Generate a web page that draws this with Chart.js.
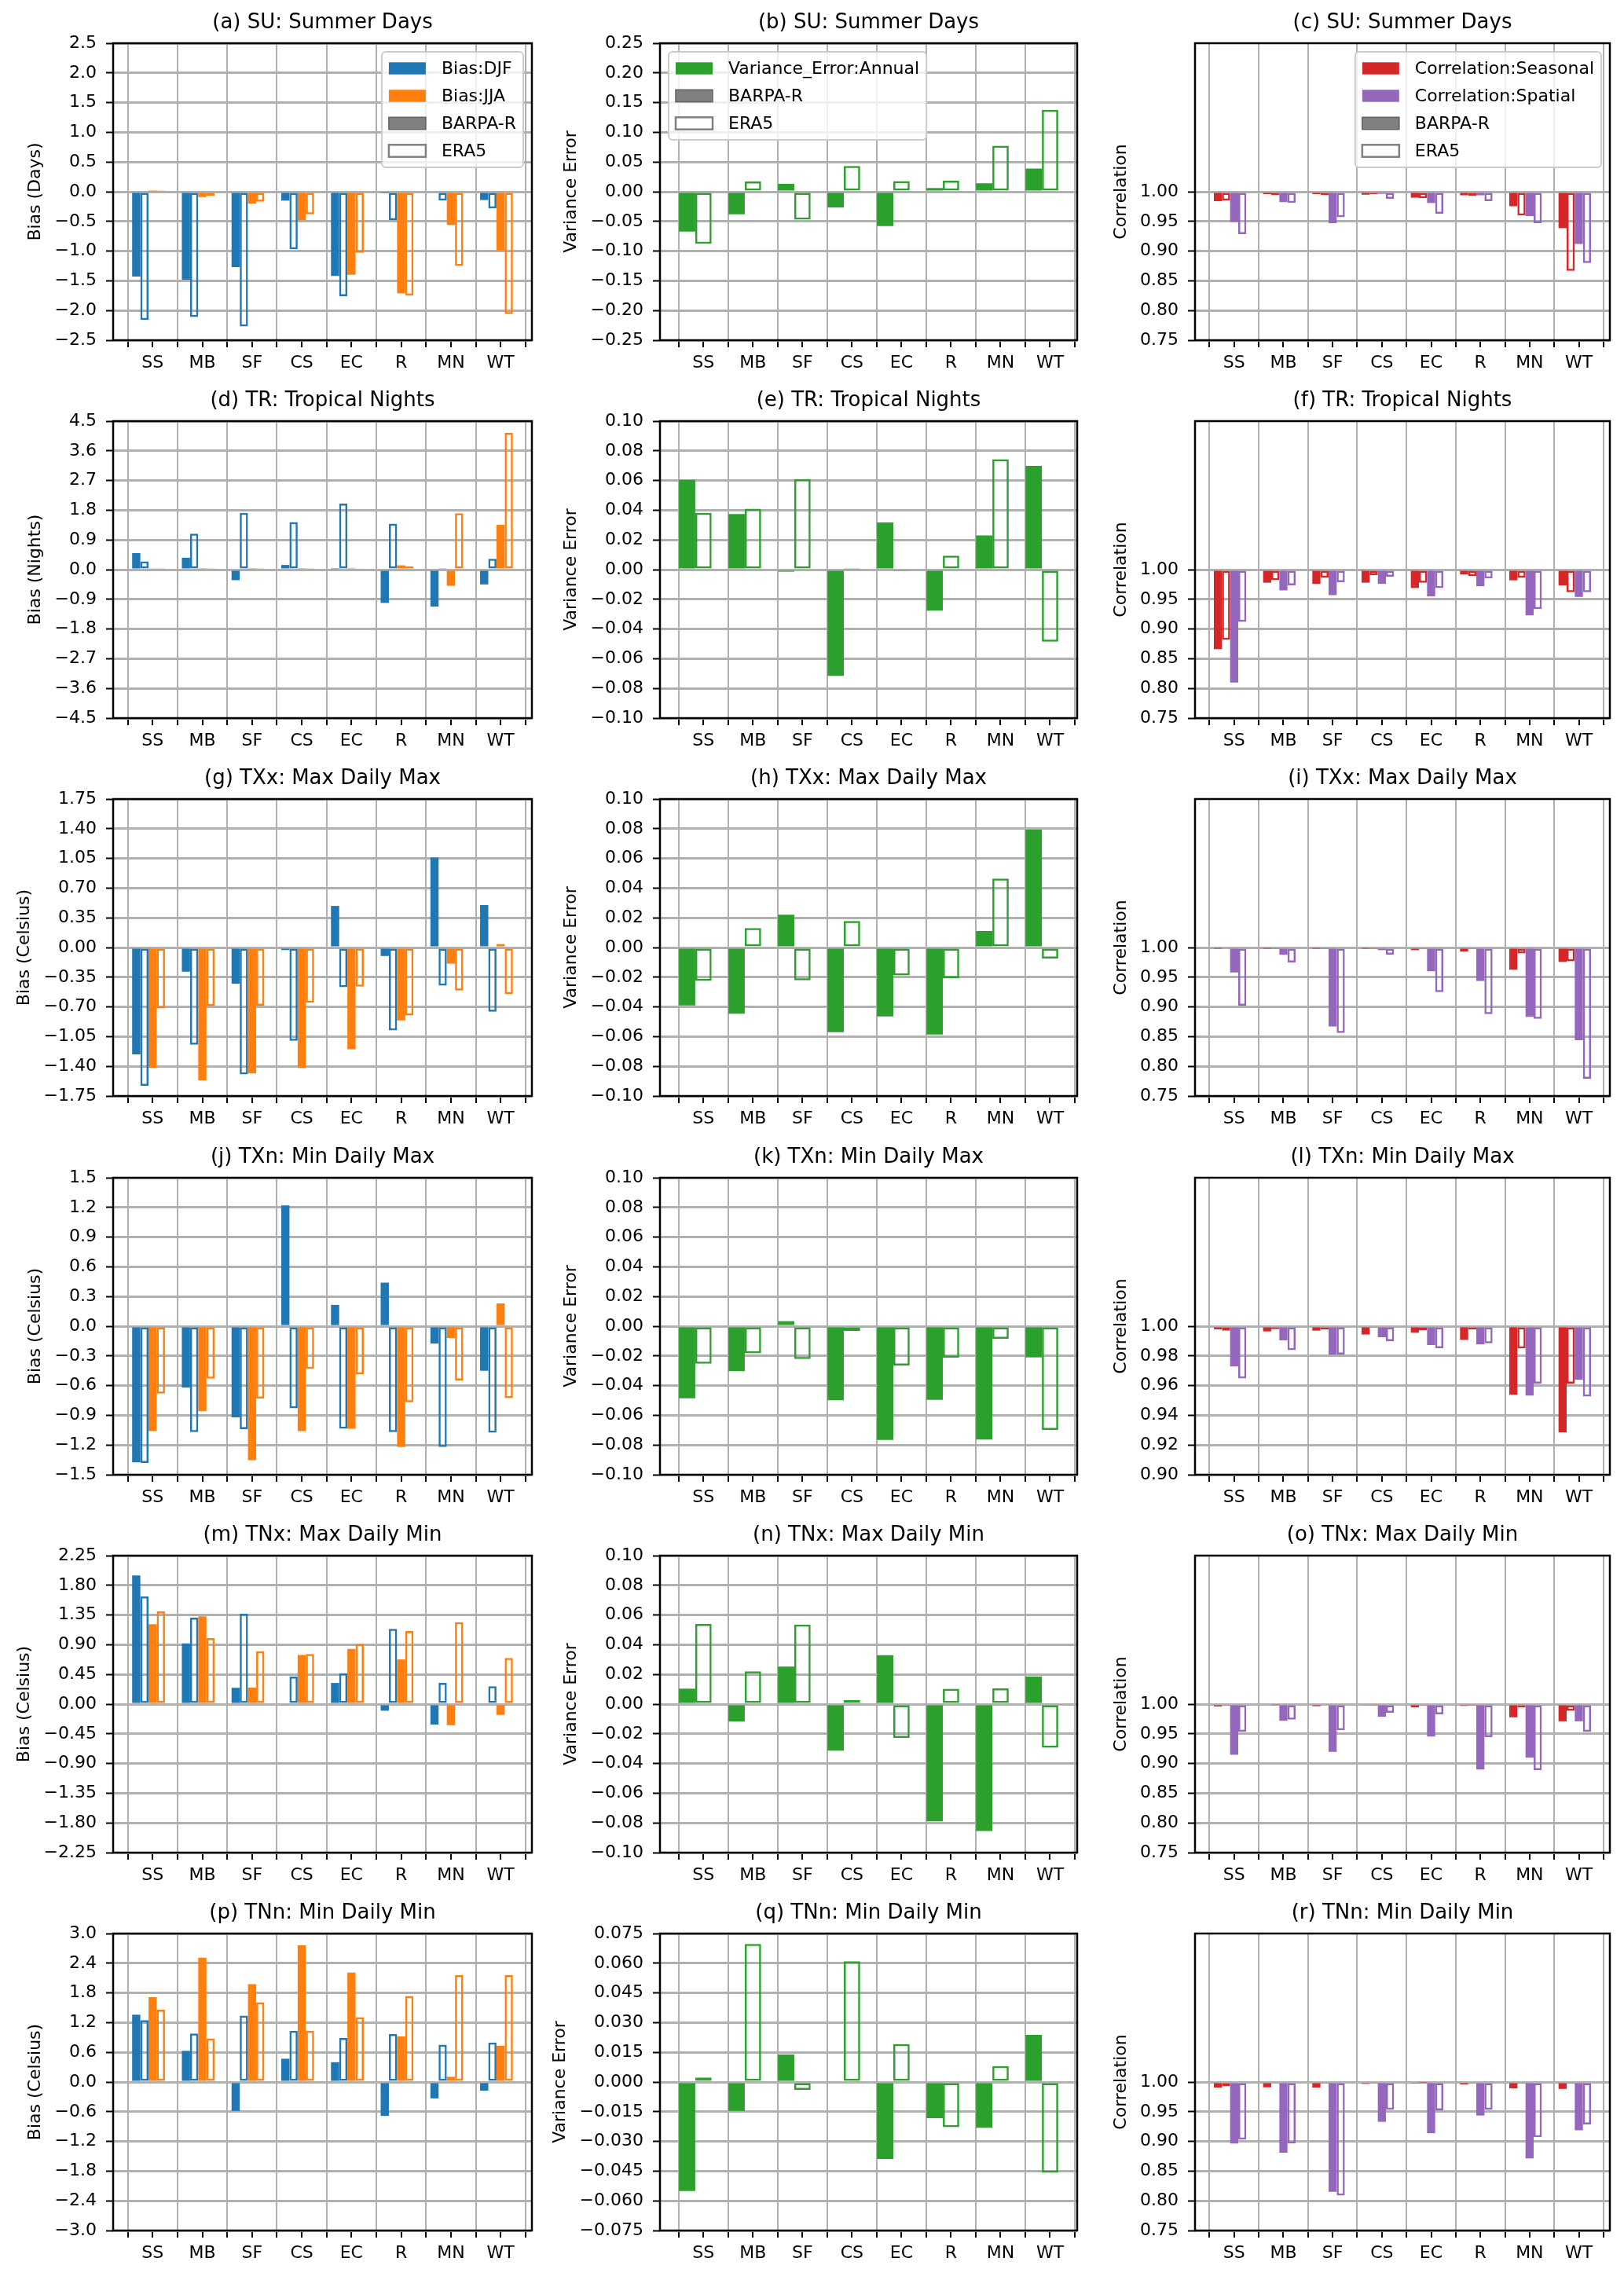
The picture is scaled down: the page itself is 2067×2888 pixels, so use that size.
<!DOCTYPE html>
<html>
<head>
<meta charset="utf-8">
<script src="https://cdn.jsdelivr.net/npm/chart.js@4.4.0/dist/chart.umd.min.js"></script>
<style>
  body { margin: 0; background: #fff; width: 2067px; height: 2888px; position: relative; overflow: hidden; }
  .panel { position: absolute; }
</style>
</head>
<body>
<script>
// Regions and indices
const CATEGORIES = ['SS', 'MB', 'SF', 'CS', 'EC', 'R', 'MN', 'WT'];
const INDICES = ['SU', 'TR', 'TXx', 'TXn', 'TNx', 'TNn'];
const INDEX_NAMES = ['Summer Days', 'Tropical Nights', 'Max Daily Max', 'Min Daily Max', 'Max Daily Min', 'Min Daily Min'];
const LETTERS = 'abcdefghijklmnopqr'.split('');
const BIAS_UNITS = ['Days', 'Nights', 'Celsius', 'Celsius', 'Celsius', 'Celsius'];

// Bias (left column)
const SU_DJF_BARPA = [-1.43, -1.48, -1.27, -0.15, -1.42, -0.01, 0.0, -0.14];
const SU_DJF_ERA5  = [-2.16, -2.11, -2.27, -0.97, -1.76, -0.48, -0.15, -0.28];
const SU_JJA_BARPA = [0.01, -0.09, -0.20, -0.48, -1.40, -1.71, -0.56, -0.99];
const SU_JJA_ERA5  = [0.01, -0.07, -0.17, -0.38, -1.03, -1.75, -1.25, -2.06];

const TR_DJF_BARPA = [0.50, 0.36, -0.32, 0.14, 0.02, -1.01, -1.12, -0.45];
const TR_DJF_ERA5  = [0.25, 1.09, 1.72, 1.44, 2.00, 1.39, 0.05, 0.33];
const TR_JJA_BARPA = [0.03, 0.02, 0.02, 0.02, 0.05, 0.13, -0.49, 1.36];
const TR_JJA_ERA5  = [0.02, 0.02, 0.02, 0.02, 0.03, 0.10, 1.71, 4.15];

const TXX_DJF_BARPA = [-1.26, -0.285, -0.427, -0.03, 0.49, -0.10, 1.06, 0.50];
const TXX_DJF_ERA5  = [-1.63, -1.146, -1.496, -1.10, -0.468, -0.976, -0.45, -0.756];
const TXX_JJA_BARPA = [-1.42, -1.564, -1.483, -1.42, -1.20, -0.858, -0.19, 0.04];
const TXX_JJA_ERA5  = [-0.715, -0.69, -0.685, -0.65, -0.46, -0.80, -0.508, -0.548];

const TXN_DJF_BARPA = [-1.375, -0.62, -0.92, 1.22, 0.215, 0.44, -0.175, -0.45];
const TXN_DJF_ERA5  = [-1.38, -1.07, -1.04, -0.83, -1.035, -1.07, -1.22, -1.075];
const TXN_JJA_BARPA = [-1.06, -0.86, -1.354, -1.06, -1.035, -1.22, -0.12, 0.23];
const TXN_JJA_ERA5  = [-0.68, -0.53, -0.73, -0.43, -0.486, -0.767, -0.547, -0.727];

const TNX_DJF_BARPA = [1.95, 0.92, 0.247, -0.02, 0.32, -0.10, -0.31, 0.0];
const TNX_DJF_ERA5  = [1.63, 1.31, 1.37, 0.418, 0.466, 1.14, 0.32, 0.27];
const TNX_JJA_BARPA = [1.21, 1.33, 0.25, 0.745, 0.836, 0.677, -0.32, -0.163];
const TNX_JJA_ERA5  = [1.406, 1.0, 0.80, 0.76, 0.91, 1.107, 1.24, 0.70];

const TNN_DJF_BARPA = [1.36, 0.63, -0.584, 0.47, 0.40, -0.685, -0.33, -0.175];
const TNN_DJF_ERA5  = [1.25, 0.98, 1.34, 1.035, 0.887, 0.97, 0.754, 0.797];
const TNN_JJA_BARPA = [1.715, 2.51, 1.975, 2.76, 2.21, 0.92, 0.106, 0.733];
const TNN_JJA_ERA5  = [1.46, 0.88, 1.61, 1.035, 1.31, 1.74, 2.16, 2.16];

// Variance error (middle column)
const SU_VAR_BARPA  = [-0.067, -0.038, 0.0133, -0.0265, -0.058, 0.0062, 0.0142, 0.039];
const SU_VAR_ERA5   = [-0.0876, 0.0173, -0.047, 0.0434, 0.0177, 0.0186, 0.0774, 0.138];
const TR_VAR_BARPA  = [0.0605, 0.0375, -0.0014, -0.0715, 0.0318, -0.0276, 0.023, 0.0699];
const TR_VAR_ERA5   = [0.0382, 0.041, 0.061, 0.0003, -0.001, 0.0094, 0.0743, -0.0485];
const TXX_VAR_BARPA = [-0.039, -0.0446, 0.0221, -0.057, -0.0464, -0.0586, 0.0111, 0.0793];
const TXX_VAR_ERA5  = [-0.0225, 0.0131, -0.0221, 0.0179, -0.0188, -0.0207, 0.0464, -0.0074];
const TXN_VAR_BARPA = [-0.0485, -0.0303, 0.0034, -0.0499, -0.0766, -0.0496, -0.0763, -0.021];
const TXN_VAR_ERA5  = [-0.0253, -0.0182, -0.0221, -0.0032, -0.0264, -0.0211, -0.0085, -0.0699];
const TNX_VAR_BARPA = [0.0104, -0.0117, 0.0253, -0.0313, 0.0329, -0.079, -0.0855, 0.0186];
const TNX_VAR_ERA5  = [0.054, 0.0221, 0.0536, 0.0028, -0.0228, 0.0103, 0.0106, -0.0294];
const TNN_VAR_BARPA = [-0.0551, -0.0146, 0.0139, 0.0, -0.0389, -0.0183, -0.0231, 0.0238];
const TNN_VAR_ERA5  = [0.0023, 0.0697, -0.004, 0.061, 0.0191, -0.0228, 0.008, -0.0458];

// Correlation (right column)
const SU_SEAS_BARPA = [0.984, 0.996, 0.996, 0.995, 0.990, 0.994, 0.9755, 0.9386];
const SU_SEAS_ERA5  = [0.985, 0.994, 0.994, 0.996, 0.989, 0.993, 0.960, 0.8667];
const SU_SPAT_BARPA = [0.949, 0.9825, 0.947, 0.9965, 0.981, 0.994, 0.959, 0.912];
const SU_SPAT_ERA5  = [0.9287, 0.981, 0.957, 0.988, 0.963, 0.984, 0.947, 0.880];

const TR_SEAS_BARPA = [0.866, 0.978, 0.976, 0.978, 0.969, 0.992, 0.982, 0.9735];
const TR_SEAS_ERA5  = [0.882, 0.982, 0.9865, 0.9906, 0.978, 0.989, 0.9865, 0.962];
const TR_SPAT_BARPA = [0.810, 0.965, 0.957, 0.976, 0.955, 0.972, 0.923, 0.954];
const TR_SPAT_ERA5  = [0.912, 0.9735, 0.979, 0.988, 0.969, 0.985, 0.9335, 0.962];

const TXX_SEAS_BARPA = [0.999, 0.999, 0.999, 0.999, 0.9956, 0.9934, 0.9626, 0.9758];
const TXX_SEAS_ERA5  = [0.998, 0.999, 0.999, 0.999, 0.997, 0.9987, 0.990, 0.9767];
const TXX_SPAT_BARPA = [0.958, 0.9877, 0.867, 0.9956, 0.960, 0.9437, 0.8834, 0.844];
const TXX_SPAT_ERA5  = [0.902, 0.975, 0.856, 0.988, 0.925, 0.888, 0.880, 0.779];

const TXN_SEAS_BARPA = [0.9979, 0.9965, 0.997, 0.9944, 0.9956, 0.9908, 0.9538, 0.9286];
const TXN_SEAS_ERA5  = [0.997, 0.998, 0.9979, 0.9988, 0.9974, 0.9979, 0.985, 0.9614];
const TXN_SPAT_BARPA = [0.9729, 0.9905, 0.9808, 0.9926, 0.9873, 0.9878, 0.9533, 0.9639];
const TXN_SPAT_ERA5  = [0.9648, 0.9838, 0.981, 0.99, 0.9852, 0.9885, 0.9614, 0.9526];

const TNX_SEAS_BARPA = [0.996, 0.998, 0.9965, 0.9978, 0.9947, 0.997, 0.9778, 0.9711];
const TNX_SEAS_ERA5  = [0.9987, 0.9995, 0.998, 0.999, 0.997, 0.999, 0.9947, 0.9889];
const TNX_SPAT_BARPA = [0.9147, 0.972, 0.9196, 0.9787, 0.9454, 0.8899, 0.9099, 0.9711];
const TNX_SPAT_ERA5  = [0.9534, 0.974, 0.956, 0.9853, 0.9827, 0.9445, 0.889, 0.9534];

const TNN_SEAS_BARPA = [0.9907, 0.9911, 0.9907, 0.9969, 0.9987, 0.996, 0.9893, 0.9884];
const TNN_SEAS_ERA5  = [0.993, 0.9978, 0.9973, 0.9987, 0.9996, 0.9987, 0.9969, 0.9969];
const TNN_SPAT_BARPA = [0.8965, 0.881, 0.8153, 0.933, 0.9138, 0.9436, 0.8712, 0.9187];
const TNN_SPAT_ERA5  = [0.9032, 0.8965, 0.809, 0.9534, 0.9525, 0.9534, 0.9072, 0.9285];

// Axis ranges / tick formats
const BIAS_LIMIT = [2.5, 4.5, 1.75, 1.5, 2.25, 3.0];
const BIAS_DECIMALS = [1, 1, 2, 1, 2, 1];
const VAR_LIMIT = [0.25, 0.1, 0.1, 0.1, 0.1, 0.075];
const VAR_DECIMALS = [2, 2, 2, 2, 2, 3];
const CORR_LOW = [0.75, 0.75, 0.75, 0.90, 0.75, 0.75];
const CORR_STEP = [0.05, 0.05, 0.05, 0.02, 0.05, 0.05];

const BIAS = [
  [SU_DJF_BARPA, SU_DJF_ERA5, SU_JJA_BARPA, SU_JJA_ERA5],
  [TR_DJF_BARPA, TR_DJF_ERA5, TR_JJA_BARPA, TR_JJA_ERA5],
  [TXX_DJF_BARPA, TXX_DJF_ERA5, TXX_JJA_BARPA, TXX_JJA_ERA5],
  [TXN_DJF_BARPA, TXN_DJF_ERA5, TXN_JJA_BARPA, TXN_JJA_ERA5],
  [TNX_DJF_BARPA, TNX_DJF_ERA5, TNX_JJA_BARPA, TNX_JJA_ERA5],
  [TNN_DJF_BARPA, TNN_DJF_ERA5, TNN_JJA_BARPA, TNN_JJA_ERA5]
];
const VARIANCE = [
  [SU_VAR_BARPA, SU_VAR_ERA5], [TR_VAR_BARPA, TR_VAR_ERA5], [TXX_VAR_BARPA, TXX_VAR_ERA5],
  [TXN_VAR_BARPA, TXN_VAR_ERA5], [TNX_VAR_BARPA, TNX_VAR_ERA5], [TNN_VAR_BARPA, TNN_VAR_ERA5]
];
const CORRELATION = [
  [SU_SEAS_BARPA, SU_SEAS_ERA5, SU_SPAT_BARPA, SU_SPAT_ERA5],
  [TR_SEAS_BARPA, TR_SEAS_ERA5, TR_SPAT_BARPA, TR_SPAT_ERA5],
  [TXX_SEAS_BARPA, TXX_SEAS_ERA5, TXX_SPAT_BARPA, TXX_SPAT_ERA5],
  [TXN_SEAS_BARPA, TXN_SEAS_ERA5, TXN_SPAT_BARPA, TXN_SPAT_ERA5],
  [TNX_SEAS_BARPA, TNX_SEAS_ERA5, TNX_SPAT_BARPA, TNX_SPAT_ERA5],
  [TNN_SEAS_BARPA, TNN_SEAS_ERA5, TNN_SPAT_BARPA, TNN_SPAT_ERA5]
];

const BLUE = '#1f77b4', ORANGE = '#ff7f0e', GREEN = '#2ca02c', RED = '#d62728', PURPLE = '#9467bd';
const GRID = '#b0b0b0';
const FONT = '"DejaVu Sans", sans-serif';

// page layout (px)
const COL_LEFT = [0, 700, 1390];
const COL_WIDTH = [700, 690, 677];
const Y_AXIS_W = [144, 140, 131];
const RIGHT_PAD = [23, 19, 18];
const ROW_PITCH = 481.2;
const PANEL_H = 481;
const X_MIN = -0.7125, X_MAX = 7.7125;

Chart.defaults.font.family = FONT;
Chart.defaults.font.size = 22;
Chart.defaults.color = '#000';

const measureCtx = document.createElement('canvas').getContext('2d');
measureCtx.font = '22px ' + FONT;

function fmt(v, d) {
  return (v < -1e-9 ? '\u2212' : '') + Math.abs(v).toFixed(d);
}

// label ticks at the region names, plain ticks at the grid lines between them
function xTickList(off) {
  const t = [];
  CATEGORIES.forEach((c, i) => {
    t.push({ value: i + off - 0.5 });
    t.push({ value: i + off, cat: c });
  });
  t.push({ value: CATEGORIES.length - 1 + off + 0.5 });
  return t;
}

function barSet(values, color, hollow, base) {
  const ds = {
    data: values.map((v, i) => ({ x: i, y: v })),
    backgroundColor: hollow ? 'rgba(255,255,255,0)' : color,
    borderColor: color,
    borderWidth: hollow ? 2.5 : 0,
    borderSkipped: false,
    categoryPercentage: 1.32,
    barPercentage: 1.0
  };
  if (base !== undefined) ds.base = base;
  return ds;
}

const framePlugin = {
  id: 'frame',
  afterDraw(chart) {
    const { ctx, chartArea: a } = chart;
    ctx.save();
    ctx.strokeStyle = '#000';
    ctx.lineWidth = 2.5;
    ctx.strokeRect(a.left, a.top, a.right - a.left, a.bottom - a.top);
    ctx.restore();
  }
};

const legendPlugin = {
  id: 'panelLegend',
  afterDraw(chart, args, opts) {
    if (!opts || !opts.items) return;
    const { ctx, chartArea: a } = chart;
    const items = opts.items;
    ctx.save();
    ctx.font = '22px ' + FONT;
    const textW = Math.max(...items.map(it => ctx.measureText(it.label).width));
    const pad = 9, hl = 47, htp = 20, rowH = 24, gap = 11;
    const w = pad * 2 + hl + htp + textW;
    const h = pad * 2 + items.length * rowH + (items.length - 1) * gap;
    const x = opts.corner === 'left' ? a.left + 11 : a.right - 11 - w;
    const y = a.top + 11;
    ctx.beginPath();
    ctx.roundRect(x, y, w, h, 5);
    ctx.fillStyle = 'rgba(255,255,255,0.8)';
    ctx.fill();
    ctx.strokeStyle = '#cccccc';
    ctx.lineWidth = 2;
    ctx.stroke();
    items.forEach((it, k) => {
      const cy = y + pad + rowH / 2 + k * (rowH + gap);
      ctx.fillStyle = it.fill;
      ctx.fillRect(x + pad, cy - 7.7, hl, 15.4);
      if (it.edge) {
        ctx.strokeStyle = it.edge;
        ctx.lineWidth = it.edgeWidth || 1.5;
        ctx.strokeRect(x + pad, cy - 7.7, hl, 15.4);
      }
      ctx.fillStyle = '#000';
      ctx.textBaseline = 'middle';
      ctx.textAlign = 'left';
      ctx.fillText(it.label, x + pad + hl + htp, cy + 1);
    });
    ctx.restore();
  }
};

const LEGEND_BIAS = [
  { label: 'Bias:DJF', fill: BLUE },
  { label: 'Bias:JJA', fill: ORANGE },
  { label: 'BARPA-R', fill: '#808080', edge: '#606060' },
  { label: 'ERA5', fill: '#ffffff', edge: '#808080', edgeWidth: 2.5 }
];
const LEGEND_VAR = [
  { label: 'Variance_Error:Annual', fill: GREEN },
  { label: 'BARPA-R', fill: '#808080', edge: '#606060' },
  { label: 'ERA5', fill: '#ffffff', edge: '#808080', edgeWidth: 2.5 }
];
const LEGEND_CORR = [
  { label: 'Correlation:Seasonal', fill: RED },
  { label: 'Correlation:Spatial', fill: PURPLE },
  { label: 'BARPA-R', fill: '#808080', edge: '#606060' },
  { label: 'ERA5', fill: '#ffffff', edge: '#808080', edgeWidth: 2.5 }
];

function makePanel(col, row, p) {
  const div = document.createElement('div');
  div.className = 'panel';
  div.style.left = COL_LEFT[col] + 'px';
  div.style.top = Math.round(row * ROW_PITCH) + 'px';
  div.style.width = COL_WIDTH[col] + 'px';
  div.style.height = PANEL_H + 'px';
  const canvas = document.createElement('canvas');
  div.appendChild(canvas);
  document.body.appendChild(div);

  const labels = p.yTicks.map(v => fmt(v, p.decimals));
  const maxW = Math.max(...labels.map(s => measureCtx.measureText(s).width));
  const titleCenter = Y_AXIS_W[col] - 21 - maxW - 24;

  new Chart(canvas, {
    type: 'bar',
    data: { datasets: p.datasets },
    options: {
      responsive: true,
      maintainAspectRatio: false,
      animation: false,
      layout: { padding: { left: 0, right: RIGHT_PAD[col], top: 0, bottom: 0 } },
      plugins: {
        legend: { display: false },
        tooltip: { enabled: false },
        title: {
          display: true,
          fullSize: false,
          text: p.title,
          color: '#000',
          font: { size: 26, weight: 'normal' },
          padding: { top: 13.7, bottom: 10.1 }
        },
        panelLegend: p.legend || {}
      },
      scales: {
        x: {
          type: 'linear',
          min: X_MIN,
          max: X_MAX,
          offset: false,
          z: 1,
          border: { display: false },
          grid: {
            offset: false,
            color: c => (c.tick && c.tick.cat) ? 'rgba(0,0,0,0)' : GRID,
            lineWidth: 2,
            tickColor: '#000',
            tickWidth: 2,
            tickLength: 9
          },
          ticks: {
            autoSkip: false,
            maxRotation: 0,
            minRotation: 0,
            padding: 7,
            color: '#000',
            callback: (v, i, t) => t[i].cat || ''
          },
          afterBuildTicks: s => { s.ticks = xTickList(p.labelOffset); },
          afterFit: s => { s.height = 48; }
        },
        y: {
          type: 'linear',
          min: p.yMin,
          max: p.yMax,
          z: 1,
          border: { display: false },
          grid: {
            color: GRID,
            lineWidth: 3,
            tickColor: '#000',
            tickWidth: 2,
            tickLength: 9
          },
          ticks: {
            autoSkip: false,
            padding: 12,
            color: '#000',
            callback: v => fmt(v, p.decimals)
          },
          title: {
            display: true,
            text: p.yTitle,
            color: '#000',
            font: { size: 22 },
            padding: { top: titleCenter - 13.2, bottom: 0 }
          },
          afterBuildTicks: s => { s.ticks = p.yTicks.map(v => ({ value: v })); },
          afterFit: s => { s.width = Y_AXIS_W[col]; }
        }
      }
    },
    plugins: [framePlugin, legendPlugin]
  });
}

function symTicks(lim) {
  const t = [];
  for (let k = -5; k <= 5; k++) t.push(Number((lim * k / 5).toFixed(6)));
  return t;
}

INDICES.forEach((ind, r) => {
  const name = ind + ': ' + INDEX_NAMES[r];
  const b = BIAS[r];
  makePanel(0, r, {
    title: '(' + LETTERS[r * 3] + ') ' + name,
    yTitle: 'Bias (' + BIAS_UNITS[r] + ')',
    yMin: -BIAS_LIMIT[r], yMax: BIAS_LIMIT[r],
    yTicks: symTicks(BIAS_LIMIT[r]),
    decimals: BIAS_DECIMALS[r],
    labelOffset: 0.0825,
    legend: r === 0 ? { items: LEGEND_BIAS, corner: 'right' } : null,
    datasets: [
      barSet(b[0], BLUE, false), barSet(b[1], BLUE, true),
      barSet(b[2], ORANGE, false), barSet(b[3], ORANGE, true)
    ]
  });

  const v = VARIANCE[r];
  makePanel(1, r, {
    title: '(' + LETTERS[r * 3 + 1] + ') ' + name,
    yTitle: 'Variance Error',
    yMin: -VAR_LIMIT[r], yMax: VAR_LIMIT[r],
    yTicks: symTicks(VAR_LIMIT[r]),
    decimals: VAR_DECIMALS[r],
    labelOffset: 0.165,
    legend: r === 0 ? { items: LEGEND_VAR, corner: 'left' } : null,
    datasets: [barSet(v[0], GREEN, false), barSet(v[1], GREEN, true)]
  });

  const c = CORRELATION[r];
  const low = CORR_LOW[r];
  const cTicks = [];
  for (let k = 0; low + k * CORR_STEP[r] <= 1.0001; k++) cTicks.push(Number((low + k * CORR_STEP[r]).toFixed(6)));
  makePanel(2, r, {
    title: '(' + LETTERS[r * 3 + 2] + ') ' + name,
    yTitle: 'Correlation',
    yMin: low, yMax: 2 - low,
    yTicks: cTicks,
    decimals: 2,
    labelOffset: 0.0825,
    legend: r === 0 ? { items: LEGEND_CORR, corner: 'right' } : null,
    datasets: [
      barSet(c[0], RED, false, 1), barSet(c[1], RED, true, 1),
      barSet(c[2], PURPLE, false, 1), barSet(c[3], PURPLE, true, 1)
    ]
  });
});
</script>
</body>
</html>
